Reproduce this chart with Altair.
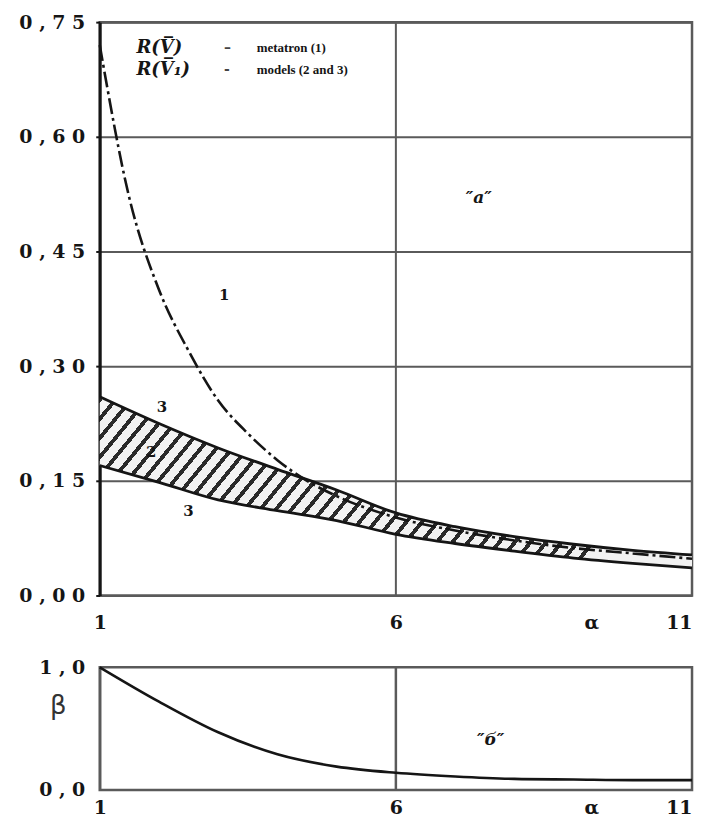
import altair as alt
import pandas as pd

# ---------------- data ----------------
alpha_r1 = [1, 1.5, 2, 2.5, 3, 3.5, 4, 4.5, 5, 6, 7, 8, 9, 10, 11]
r_metatron = [0.72, 0.52, 0.40, 0.32, 0.255, 0.212, 0.177, 0.150, 0.130,
              0.102, 0.085, 0.072, 0.062, 0.055, 0.048]

alpha_band = [1, 2, 3, 4, 5, 6, 7, 8, 9, 10, 11]
r_models_upper = [0.26, 0.225, 0.193, 0.165, 0.138, 0.108, 0.090, 0.077, 0.067, 0.059, 0.053]
r_models_lower = [0.17, 0.148, 0.125, 0.111, 0.098, 0.080, 0.068, 0.058, 0.049, 0.042, 0.036]

alpha_beta = [1, 2, 3, 4, 5, 6, 7, 8, 9, 10, 11]
beta = [1.0, 0.72, 0.47, 0.29, 0.19, 0.14, 0.11, 0.09, 0.085, 0.08, 0.08]

y_ticks_top = [0.00, 0.15, 0.30, 0.45, 0.60, 0.75]
y_labels_top = ["0,00", "0,15", "0,30", "0,45", "0,60", "0,75"]
y_ticks_bottom = [0.0, 1.0]
y_labels_bottom = ["0,0", "1,0"]
x_ticks = [1, 6, 9.3, 11]
x_labels = ["1", "6", "α", "11"]
grid_alpha = [6]

curve_labels = ["1", "3", "2", "3"]
curve_label_alpha = [3.1, 2.05, 1.87, 2.5]
curve_label_value = [0.393, 0.247, 0.188, 0.110]

legend_symbols = ["R(V\u0305)", "R(V\u0305\u2081)"]
legend_dashes = ["\u2013", "-"]
legend_texts = ["metatron (1)", "models (2 and 3)"]
legend_alpha = [1.62, 3.1, 3.65]
legend_value = [0.716, 0.688]

panel_label_top = ["\u2033a\u2033"]
panel_label_top_pos = [7.4, 0.52]
panel_label_bottom = ["\u2033\u0431\u2033"]
panel_label_bottom_pos = [7.6, 0.41]

# ---------------- helpers ----------------
def spaced(s):
    return " ".join(list(s))

def label_expr(values, labels, space=True):
    expr = "''"
    for v, lab in reversed(list(zip(values, labels))):
        txt = spaced(lab) if space else lab
        expr = f"(abs(datum.value - ({v})) < 1e-6 ? '{txt}' : {expr})"
    return expr

FONT = "DejaVu Serif"
INK = "#151515"
GRID = "#5a5a5a"
LABEL_SIZE = 19
PLOT_W = 594

xscale = alt.Scale(domain=[1, 11], nice=False, zero=False)

def x_axis(pad):
    return alt.Axis(values=x_ticks, labelExpr=label_expr(x_ticks, x_labels, space=False),
                    title=None, grid=False, ticks=False, domain=False,
                    labelPadding=pad, labelFlush=False, labelOverlap=False,
                    labelAlign={"condition": {"test": "datum.value > 10.5", "value": "right"},
                                "value": "center"},
                    labelFont=FONT, labelFontWeight="bold", labelFontSize=LABEL_SIZE, labelColor=INK)

# ---------------- top panel ----------------
df_r1 = pd.DataFrame({"alpha": alpha_r1, "r": r_metatron})
df_band = pd.DataFrame({"alpha": alpha_band, "upper": r_models_upper, "lower": r_models_lower})
df_grid = pd.DataFrame({"alpha": grid_alpha})
df_lab = pd.DataFrame({"alpha": curve_label_alpha, "v": curve_label_value, "t": curve_labels})
df_leg_sym = pd.DataFrame({"alpha": [legend_alpha[0]] * 2, "v": legend_value, "t": legend_symbols})
df_leg_dash = pd.DataFrame({"alpha": [legend_alpha[1]] * 2, "v": legend_value, "t": legend_dashes})
df_leg_txt = pd.DataFrame({"alpha": [legend_alpha[2]] * 2, "v": legend_value, "t": legend_texts})
df_pan_top = pd.DataFrame({"alpha": [panel_label_top_pos[0]], "v": [panel_label_top_pos[1]], "t": panel_label_top})

yscale_top = alt.Scale(domain=[0, 0.75], nice=False, zero=True)
y_axis_top = alt.Axis(values=y_ticks_top, labelExpr=label_expr(y_ticks_top, y_labels_top),
                      title=None, grid=True, gridColor=GRID, gridWidth=2,
                      ticks=True, tickSize=4, tickWidth=2, tickColor=INK,
                      domain=True, domainColor=INK, domainWidth=3,
                      labelPadding=11, labelFlush=False, labelOverlap=False,
                      labelFont=FONT, labelFontWeight="bold", labelFontSize=LABEL_SIZE, labelColor=INK)

# hatch pattern as a striped linear gradient
N = 40
stops = []
for k in range(N):
    a = k / N
    b = (k + 0.32) / N
    c = (k + 1) / N
    stops += [alt.GradientStop(color="#2a2a2a", offset=a),
              alt.GradientStop(color="#2a2a2a", offset=b),
              alt.GradientStop(color="#f2f2f2", offset=b),
              alt.GradientStop(color="#f2f2f2", offset=c)]
hatch = alt.LinearGradient(gradient="linear", stops=stops, x1=0, y1=0, x2=1, y2=0.236)

base_top = alt.Chart(df_band)

grid_rule = alt.Chart(df_grid).mark_rule(color=GRID, strokeWidth=2).encode(
    x=alt.X("alpha:Q", scale=xscale, axis=x_axis(18)))

band = base_top.mark_area(fill=hatch, interpolate="monotone", opacity=1).encode(
    x=alt.X("alpha:Q", scale=xscale, axis=x_axis(18)),
    y=alt.Y("upper:Q", scale=yscale_top, axis=y_axis_top),
    y2="lower:Q")

upper_line = base_top.mark_line(color=INK, strokeWidth=2.8, interpolate="monotone").encode(
    x="alpha:Q", y="upper:Q")
lower_line = base_top.mark_line(color=INK, strokeWidth=2.8, interpolate="monotone").encode(
    x="alpha:Q", y="lower:Q")

curve1 = alt.Chart(df_r1).mark_line(color=INK, strokeWidth=2.6, interpolate="monotone",
                                    strokeDash=[16, 4, 3, 4]).encode(
    x="alpha:Q", y="r:Q")

labels_top = alt.Chart(df_lab).mark_text(font=FONT, fontWeight="bold", fontSize=15, color=INK).encode(
    x="alpha:Q", y="v:Q", text="t:N")

leg_sym = alt.Chart(df_leg_sym).mark_text(font=FONT, fontWeight="bold", fontStyle="italic",
                                          fontSize=18, color=INK, align="left").encode(
    x="alpha:Q", y="v:Q", text="t:N")
leg_dash = alt.Chart(df_leg_dash).mark_text(font=FONT, fontWeight="bold", fontSize=14,
                                            color="#444", align="left").encode(
    x="alpha:Q", y="v:Q", text="t:N")
leg_txt = alt.Chart(df_leg_txt).mark_text(font="Liberation Serif", fontWeight="bold", fontSize=13,
                                          color=INK, align="left").encode(
    x="alpha:Q", y="v:Q", text="t:N")

pan_top = alt.Chart(df_pan_top).mark_text(font=FONT, fontWeight="bold", fontStyle="italic",
                                          fontSize=17, color=INK).encode(
    x="alpha:Q", y="v:Q", text="t:N")

top = alt.layer(grid_rule, band, upper_line, lower_line, curve1, labels_top,
                leg_sym, leg_dash, leg_txt, pan_top).properties(width=PLOT_W, height=575)

# ---------------- bottom panel ----------------
df_beta = pd.DataFrame({"alpha": alpha_beta, "beta": beta})
df_pan_bot = pd.DataFrame({"alpha": [panel_label_bottom_pos[0]], "v": [panel_label_bottom_pos[1]],
                           "t": panel_label_bottom})

yscale_bot = alt.Scale(domain=[0, 1], nice=False, zero=True)
y_axis_bot = alt.Axis(values=y_ticks_bottom, labelExpr=label_expr(y_ticks_bottom, y_labels_bottom),
                      title="\u03B2", titleAngle=0, titleX=-42, titleY=38, titleAlign="center",
                      titleBaseline="middle", titleFont="DejaVu Sans", titleFontWeight="normal",
                      titleFontSize=26, titleColor="#333",
                      grid=False, ticks=False, domain=True, domainColor=GRID, domainWidth=2.5,
                      labelPadding=15, labelFlush=False, labelOverlap=False,
                      labelFont=FONT, labelFontWeight="bold", labelFontSize=LABEL_SIZE, labelColor=INK)

grid_rule_b = alt.Chart(df_grid).mark_rule(color=GRID, strokeWidth=2.5).encode(
    x=alt.X("alpha:Q", scale=xscale, axis=x_axis(9)))

beta_line = alt.Chart(df_beta).mark_line(color=INK, strokeWidth=2.6, interpolate="monotone").encode(
    x=alt.X("alpha:Q", scale=xscale, axis=x_axis(9)),
    y=alt.Y("beta:Q", scale=yscale_bot, axis=y_axis_bot))

pan_bot = alt.Chart(df_pan_bot).mark_text(font=FONT, fontWeight="bold", fontStyle="italic",
                                          fontSize=17, color=INK).encode(
    x="alpha:Q", y="v:Q", text="t:N")

bottom = alt.layer(grid_rule_b, beta_line, pan_bot).properties(width=PLOT_W, height=123)

chart = alt.vconcat(top, bottom, spacing=22).properties(
    padding={"left": 9, "top": 2, "right": 0, "bottom": 0},
    background="white"
).configure_view(
    stroke=GRID, strokeWidth=2.5
)

chart.save("out.html", embed_options={"renderer": "svg", "actions": False})
